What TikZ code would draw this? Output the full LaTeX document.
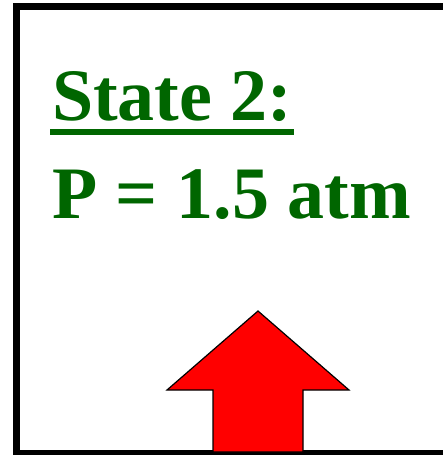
\documentclass[tikz,border=0pt]{standalone}
\usepackage{fontspec}
\setmainfont{Liberation Serif}
\usepackage{xcolor}
\usepackage{tikz}
\usetikzlibrary{positioning}
\definecolor{stategreen}{RGB}{0,102,0}

\begin{document}
\begin{tikzpicture}[x=1pt, y=-1pt,
  statetext/.style={anchor=base west, inner sep=0pt, text=stategreen, font=\fontsize{74}{80}\selectfont\bfseries}]
\useasboundingbox (0,0) rectangle (443,455);
\clip (0,0) rectangle (443,455);
% container wall, open past the right edge
\draw[line width=7pt] (16,6.5) rectangle (470,453);
% labels
\node[statetext] (title) at (52,120) {State 2:};
\draw[stategreen, line width=6pt] (50,132) -- (294,132);
\node[statetext] (press) at (52,218) {P = 1.5 atm};
% pressure arrow pushing up
\draw[fill=red, line width=1.2pt, line join=miter]
  (258,311) -- (349,390) -- (303,390) -- (303,452) -- (213,452)
  -- (213,390) -- (167,390) -- cycle;
\end{tikzpicture}
\end{document}
